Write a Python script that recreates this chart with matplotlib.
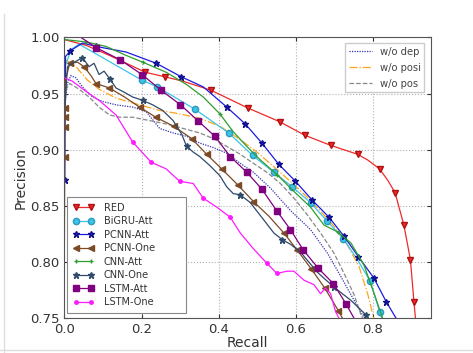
import matplotlib
matplotlib.use('Agg')
import matplotlib.pyplot as plt
from matplotlib.lines import Line2D

# precision / recall points
red_r = [0.001, 0.056, 0.117, 0.210, 0.260, 0.308, 0.380, 0.477, 0.558, 0.623, 0.690, 0.760, 0.786,
         0.817, 0.838, 0.857, 0.880, 0.897, 0.906, 0.910]
red_p = [0.998, 0.993, 0.984, 0.969, 0.965, 0.961, 0.953, 0.937, 0.925, 0.913, 0.904, 0.896, 0.891,
         0.883, 0.873, 0.862, 0.833, 0.802, 0.765, 0.750]
red_mk = [3, 4, 6, 7, 8, 9, 10, 11, 13, 15, 16, 17, 18]

bigru_r = [0.002, 0.017, 0.038, 0.201, 0.241, 0.339, 0.426, 0.488, 0.543, 0.591, 0.638, 0.680, 0.723,
           0.760, 0.793, 0.817, 0.823]
bigru_p = [0.974, 0.989, 0.994, 0.962, 0.956, 0.936, 0.915, 0.895, 0.880, 0.867, 0.853, 0.837, 0.821,
           0.802, 0.783, 0.756, 0.750]
bigru_mk = [3, 4, 5, 6, 7, 8, 9, 10, 11, 12, 14, 15]

pcnn_att_r = [0.001, 0.003, 0.015, 0.047, 0.082, 0.160, 0.238, 0.303, 0.360, 0.421, 0.469, 0.512, 0.556,
              0.599, 0.643, 0.686, 0.725, 0.762, 0.802, 0.834, 0.860]
pcnn_att_p = [0.873, 0.983, 0.988, 0.995, 0.992, 0.987, 0.977, 0.965, 0.956, 0.938, 0.923, 0.906, 0.887,
              0.872, 0.855, 0.840, 0.823, 0.805, 0.786, 0.765, 0.750]
pcnn_att_mk = [0, 2, 4, 6, 7, 9, 10, 11, 12, 13, 14, 15, 16, 17, 18, 19]

pcnn_one_r = [0.000, 0.001, 0.001, 0.002, 0.002, 0.003, 0.014, 0.034, 0.051, 0.069, 0.082, 0.117, 0.156,
              0.195, 0.237, 0.283, 0.330, 0.369, 0.408, 0.449, 0.490, 0.530, 0.569, 0.603, 0.640,
              0.675, 0.710, 0.721]
pcnn_one_p = [0.800, 0.894, 0.920, 0.929, 0.937, 0.962, 0.977, 0.978, 0.974, 0.966, 0.959, 0.955, 0.947,
              0.938, 0.929, 0.921, 0.910, 0.896, 0.883, 0.869, 0.854, 0.841, 0.826, 0.811, 0.794,
              0.777, 0.757, 0.750]
pcnn_one_mk = [1, 2, 3, 4, 6, 8, 10, 11, 13, 14, 15, 16, 17, 18, 19, 20, 22, 23, 24, 25, 26]

cnn_att_r = [0.003, 0.056, 0.108, 0.160, 0.203, 0.264, 0.317, 0.360, 0.403, 0.438, 0.473, 0.508, 0.551,
             0.595, 0.638, 0.673, 0.708, 0.743, 0.777, 0.803, 0.825]
cnn_att_p = [0.998, 0.996, 0.992, 0.984, 0.978, 0.969, 0.958, 0.947, 0.932, 0.916, 0.903, 0.891, 0.878,
             0.863, 0.849, 0.833, 0.827, 0.817, 0.797, 0.772, 0.750]

cnn_one_r = [0.002, 0.008, 0.021, 0.047, 0.064, 0.077, 0.090, 0.103, 0.118, 0.134, 0.151, 0.177, 0.203,
             0.229, 0.255, 0.282, 0.304, 0.317, 0.334, 0.351, 0.377, 0.403, 0.421, 0.438, 0.456,
             0.482, 0.516, 0.543, 0.565, 0.586, 0.612, 0.656, 0.698, 0.743, 0.782, 0.786]
cnn_one_p = [0.940, 0.974, 0.977, 0.982, 0.974, 0.977, 0.967, 0.970, 0.963, 0.955, 0.952, 0.947, 0.944,
             0.940, 0.935, 0.926, 0.914, 0.903, 0.898, 0.894, 0.886, 0.877, 0.867, 0.861, 0.860,
             0.853, 0.838, 0.826, 0.820, 0.816, 0.809, 0.791, 0.778, 0.766, 0.753, 0.750]
cnn_one_mk = [3, 8, 12, 17, 24, 28, 32, 34]

lstm_att_r = [0.043, 0.082, 0.145, 0.201, 0.251, 0.301, 0.346, 0.390, 0.430, 0.473, 0.512, 0.550, 0.586,
              0.619, 0.657, 0.697, 0.730, 0.751]
lstm_att_p = [1.000, 0.991, 0.980, 0.967, 0.953, 0.940, 0.926, 0.912, 0.894, 0.880, 0.865, 0.846, 0.829,
              0.811, 0.795, 0.781, 0.763, 0.750]
lstm_att_mk = list(range(1, 17))

lstm_one_r = [0.001, 0.021, 0.056, 0.090, 0.134, 0.177, 0.225, 0.264, 0.299, 0.334, 0.360, 0.395, 0.430,
              0.456, 0.490, 0.525, 0.551, 0.577, 0.595, 0.621, 0.647, 0.664, 0.677, 0.690, 0.703, 0.712]
lstm_one_p = [0.964, 0.961, 0.952, 0.944, 0.931, 0.907, 0.889, 0.883, 0.872, 0.870, 0.857, 0.849, 0.840,
              0.826, 0.812, 0.799, 0.790, 0.792, 0.792, 0.784, 0.780, 0.772, 0.777, 0.772, 0.756, 0.750]
lstm_one_mk = [5, 6, 8, 10, 12, 15, 16]

wo_dep_r = [0.003, 0.008, 0.017, 0.030, 0.047, 0.073, 0.099, 0.134, 0.177, 0.212, 0.247, 0.282, 0.317,
            0.351, 0.386, 0.421, 0.456, 0.490, 0.534, 0.586, 0.638, 0.682, 0.717, 0.751, 0.773, 0.777]
wo_dep_p = [0.944, 0.959, 0.966, 0.964, 0.956, 0.947, 0.943, 0.940, 0.938, 0.934, 0.919, 0.915, 0.912,
            0.906, 0.902, 0.897, 0.888, 0.880, 0.866, 0.846, 0.829, 0.808, 0.787, 0.766, 0.753, 0.750]

wo_posi_r = [0.003, 0.030, 0.060, 0.090, 0.134, 0.195, 0.247, 0.299, 0.351, 0.403, 0.456, 0.499, 0.543,
             0.595, 0.638, 0.673, 0.699, 0.734, 0.764, 0.786, 0.802]
wo_posi_p = [0.980, 0.974, 0.962, 0.954, 0.946, 0.940, 0.935, 0.932, 0.928, 0.921, 0.909, 0.898, 0.885,
             0.869, 0.855, 0.842, 0.832, 0.815, 0.796, 0.772, 0.750]

wo_pos_r = [0.003, 0.014, 0.038, 0.064, 0.090, 0.117, 0.143, 0.177, 0.221, 0.264, 0.308, 0.351, 0.386,
            0.421, 0.456, 0.490, 0.525, 0.560, 0.595, 0.630, 0.664, 0.699, 0.725, 0.751, 0.769, 0.773]
wo_pos_p = [0.953, 0.959, 0.954, 0.947, 0.938, 0.931, 0.929, 0.929, 0.926, 0.923, 0.919, 0.915, 0.910,
            0.903, 0.896, 0.888, 0.880, 0.870, 0.857, 0.842, 0.826, 0.808, 0.790, 0.771, 0.753, 0.750]

fig, ax = plt.subplots(figsize=(4.73, 3.53), dpi=100)
fig.subplots_adjust(left=0.136, right=0.911, bottom=0.098, top=0.894)

lw = 0.9
ax.plot(wo_dep_r, wo_dep_p, color='#3535b0', ls=(0, (1, 1)), lw=lw, label='w/o dep')
ax.plot(wo_posi_r, wo_posi_p, color='#ffa31a', ls='-.', lw=lw, label='w/o posi')
ax.plot(wo_pos_r, wo_pos_p, color='#888888', ls='--', lw=lw, label='w/o pos')

models = []
models.append(ax.plot(red_r, red_p, color='#ee2a2a', marker='v', ms=4, mec='#b01010',
                      markevery=red_mk, lw=lw, label='RED')[0])
models.append(ax.plot(bigru_r, bigru_p, color='#3cc3e8', marker='o', ms=4.5, mec='#2a9ac0',
                      markevery=bigru_mk, lw=lw, label='BiGRU-Att')[0])
models.append(ax.plot(pcnn_att_r, pcnn_att_p, color='#1c1ce0', marker='*', ms=4.5, mec='#10108a',
                      markevery=pcnn_att_mk, lw=lw, label='PCNN-Att')[0])
models.append(ax.plot(pcnn_one_r, pcnn_one_p, color='#7b4a26', marker='<', ms=4,
                      markevery=pcnn_one_mk, lw=lw, label='PCNN-One')[0])
models.append(ax.plot(cnn_att_r, cnn_att_p, color='#2e9e2e', marker='+', ms=3,
                      markevery=[1, 4, 8, 12, 16], lw=lw, label='CNN-Att')[0])
models.append(ax.plot(cnn_one_r, cnn_one_p, color='#2f4a6a', marker='*', ms=4.5,
                      markevery=cnn_one_mk, lw=lw, label='CNN-One')[0])
models.append(ax.plot(lstm_att_r, lstm_att_p, color='#800080', marker='s', ms=4,
                      markevery=lstm_att_mk, lw=lw, label='LSTM-Att')[0])
models.append(ax.plot(lstm_one_r, lstm_one_p, color='#ff1aff', marker='o', ms=2.5,
                      markevery=lstm_one_mk, lw=lw, label='LSTM-One')[0])

ax.set_xlim(0, 0.95)
ax.set_ylim(0.75, 1.0)
ax.set_xticks([0.0, 0.2, 0.4, 0.6, 0.8])
ax.set_yticks([0.75, 0.80, 0.85, 0.90, 0.95, 1.00])
ax.set_yticklabels(['0.75', '0.80', '0.85', '0.90', '0.95', '1.00'])
ax.set_xticklabels(['0.0', '0.2', '0.4', '0.6', '0.8'])
ax.tick_params(labelsize=9.5, direction='in', length=3, colors='#333333', top=True, right=True)
ax.grid(True, ls=':', color='#b0b0b0', lw=0.8)
for s in ax.spines.values():
    s.set_color('#555555')

ax.set_xlabel('Recall', fontsize=10, color='#333333', labelpad=0)
ax.set_ylabel('Precision', fontsize=10, color='#333333', labelpad=2)

# lower-left legend for the models
leg1 = ax.legend(handles=models, loc='lower left', bbox_to_anchor=(0.007, 0.019, 0.324, 0.3),
                 mode='expand', borderaxespad=0, fontsize=7, numpoints=2, handlelength=2.2,
                 handletextpad=1.0, labelspacing=0.36, borderpad=0.6, fancybox=False,
                 edgecolor='#888888', framealpha=1)
leg1.get_frame().set_linewidth(0.8)
for t in leg1.get_texts():
    t.set_color('#333333')
ax.add_artist(leg1)

# upper-right legend for the ablations
abl = ax.get_lines()[:3]
leg2 = ax.legend(handles=abl, loc='upper right', bbox_to_anchor=(0.982, 0.980),
                 borderaxespad=0, fontsize=7.2, handlelength=2.3, handletextpad=0.8,
                 labelspacing=0.62, borderpad=0.35, fancybox=False, edgecolor='#cccccc',
                 framealpha=1)
for t in leg2.get_texts():
    t.set_color('#444444')

# faint frame edges seen in the screenshot
fig.add_artist(Line2D([0.009, 0.009], [0.0, 0.96], transform=fig.transFigure, color='#dddddd', lw=1))
fig.add_artist(Line2D([0.0, 1.0], [0.008, 0.008], transform=fig.transFigure, color='#dddddd', lw=1))

fig.savefig('out.png', dpi=100)
